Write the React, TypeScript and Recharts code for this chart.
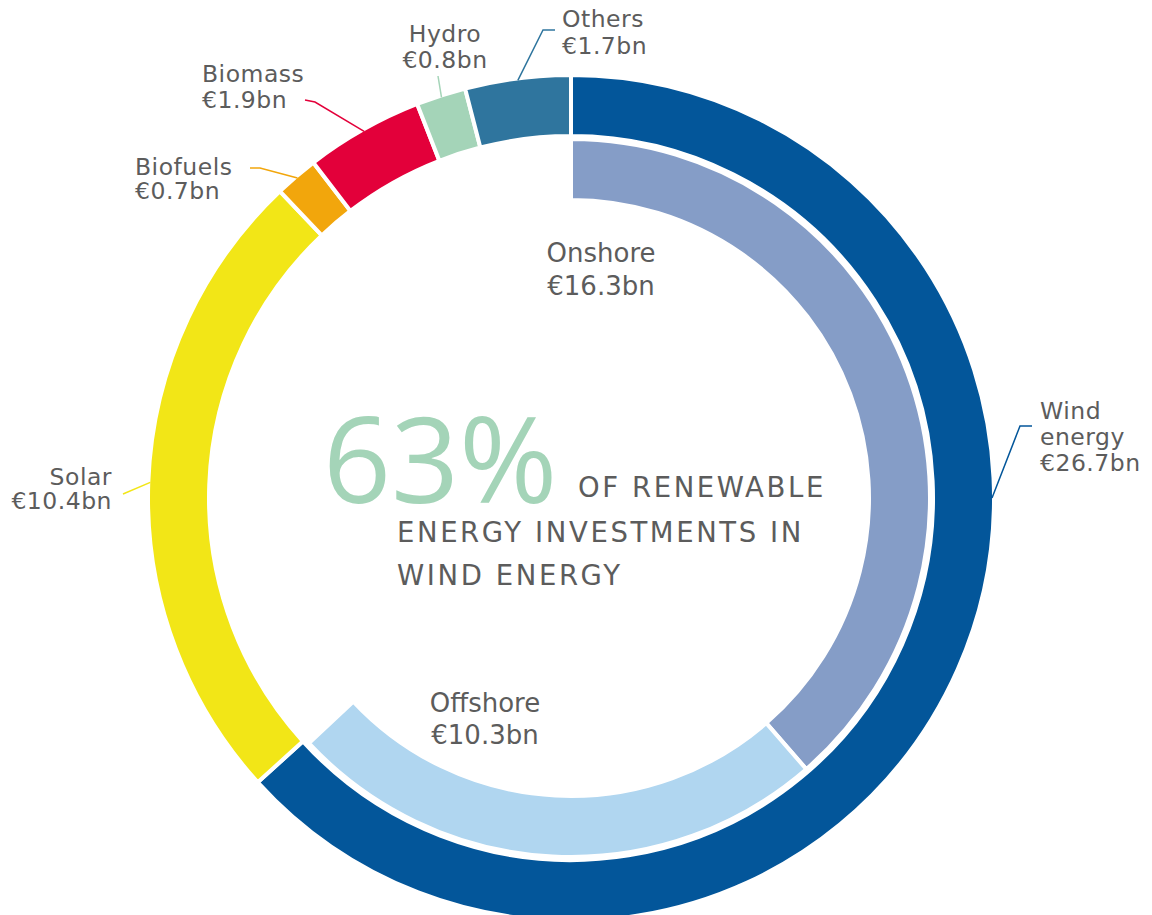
import { PieChart, Pie, Cell } from 'recharts';

const sectors = ['Wind energy', 'Solar', 'Biofuels', 'Biomass', 'Hydro', 'Others'];
const sectorValues = [26.7, 10.4, 0.7, 1.9, 0.8, 1.7];
const sectorColors = ['#03569a', '#f2e617', '#f2a60c', '#e3003a', '#a4d4b8', '#2f759e'];

const windParts = ['Onshore', 'Offshore'];
const windValues = [16.3, 10.3];
const windColors = ['#859dc7', '#b0d6f0'];

const outerData = sectors.map((name, i) => ({ name, value: sectorValues[i] }));
const innerData = windParts.map((name, i) => ({ name, value: windValues[i] }));

const total = sectorValues.reduce((a, b) => a + b, 0);
const windShare = Math.round((sectorValues[0] / total) * 100);
const innerSweep = (windValues.reduce((a, b) => a + b, 0) / total) * 360;

const CX = 571;
const CY = 498;
const RAD = Math.PI / 180;
const TEXT = '#5c5c5c';
const FONT = '"DejaVu Sans", sans-serif';

// leader-line bends and text spots, relative to the chart centre
const outerLabels: Record<string, any> = {
  'Wind energy': { angle: 0, pts: [[449, -72], [461, -72]], text: [469, -79], anchor: 'start', lh: 26, wrap: true },
  Solar: { pts: [[-448, -4]], text: [-459, -13], anchor: 'end', lh: 24 },
  Biofuels: { pts: [[-311, -330], [-321, -330]], text: [-436, -323], anchor: 'start', lh: 24 },
  Biomass: { pts: [[-256, -396], [-266, -398]], text: [-369, -416], anchor: 'start', lh: 26 },
  Hydro: { pts: [[-133, -422]], text: [-126, -456], anchor: 'middle', lh: 26 },
  Others: { pts: [[-28, -468], [-16, -468]], text: [-9, -471], anchor: 'start', lh: 27 },
};

const innerLabels: Record<string, any> = {
  Onshore: { text: [30, -236], lh: 33 },
  Offshore: { text: [-86, 214], lh: 32 },
};

const money = (v: number) => `€${v}bn`;

function OuterLabel(props: any) {
  const { cx, cy, midAngle, outerRadius, value, index } = props;
  const name = sectors[index];
  const cfg = outerLabels[name];
  if (!cfg) return null;
  const ang = cfg.angle ?? midAngle;
  const r = outerRadius - 2;
  const sx = cx + r * Math.cos(-ang * RAD);
  const sy = cy + r * Math.sin(-ang * RAD);
  const path = [[sx, sy], ...cfg.pts.map(([dx, dy]: number[]) => [cx + dx, cy + dy])]
    .map((p: number[], i: number) => `${i ? 'L' : 'M'}${p[0]},${p[1]}`)
    .join(' ');
  const lines = [...(cfg.wrap ? name.split(' ') : [name]), money(value)];
  return (
    <g>
      <path d={path} stroke={sectorColors[index]} strokeWidth={1.5} fill="none" />
      <text
        x={cx + cfg.text[0]}
        y={cy + cfg.text[1]}
        textAnchor={cfg.anchor}
        fill={TEXT}
        fontFamily={FONT}
        fontSize={23.5}
        letterSpacing={0.5}
      >
        {lines.map((l, i) => (
          <tspan key={i} x={cx + cfg.text[0]} dy={i ? cfg.lh : 0}>
            {l}
          </tspan>
        ))}
      </text>
    </g>
  );
}

function InnerLabel(props: any) {
  const { cx, cy, value, index } = props;
  const name = windParts[index];
  const cfg = innerLabels[name];
  const x = cx + cfg.text[0];
  return (
    <text x={x} y={cy + cfg.text[1]} textAnchor="middle" fill={TEXT} fontFamily={FONT} fontSize={26}>
      <tspan x={x}>{name}</tspan>
      <tspan x={x} dy={cfg.lh}>{money(value)}</tspan>
    </text>
  );
}

export default function App() {
  return (
    <div style={{ width: 1152, height: 915, background: '#fff' }}>
      <style>{'body{margin:0}'}</style>
      <PieChart width={1152} height={915} margin={{ top: 0, right: 0, bottom: 0, left: 0 }}>
        <Pie
          data={outerData}
          dataKey="value"
          nameKey="name"
          cx={CX}
          cy={CY}
          innerRadius={362}
          outerRadius={423}
          startAngle={90}
          endAngle={-270}
          stroke="#fff"
          strokeWidth={4}
          label={OuterLabel}
          labelLine={false}
          isAnimationActive={false}
        >
          {outerData.map((d, i) => (
            <Cell key={d.name} fill={sectorColors[i]} />
          ))}
        </Pie>
        <Pie
          data={innerData}
          dataKey="value"
          nameKey="name"
          cx={CX}
          cy={CY}
          innerRadius={298}
          outerRadius={359}
          startAngle={90}
          endAngle={90 - innerSweep}
          stroke="#fff"
          strokeWidth={4}
          label={InnerLabel}
          labelLine={false}
          isAnimationActive={false}
        >
          {innerData.map((d, i) => (
            <Cell key={d.name} fill={windColors[i]} />
          ))}
        </Pie>
        <text x={323} y={503} fill="#a4d4b8" fontFamily='"Open Sans", sans-serif' fontWeight={500} fontSize={119}>
          {windShare}%
        </text>
        <text fill={TEXT} fontFamily={FONT} fontSize={27.5} letterSpacing={2.6}>
          <tspan x={578} y={497}>OF RENEWABLE</tspan>
          <tspan x={397} y={542}>ENERGY INVESTMENTS IN</tspan>
          <tspan x={397} y={585}>WIND ENERGY</tspan>
        </text>
      </PieChart>
    </div>
  );
}
